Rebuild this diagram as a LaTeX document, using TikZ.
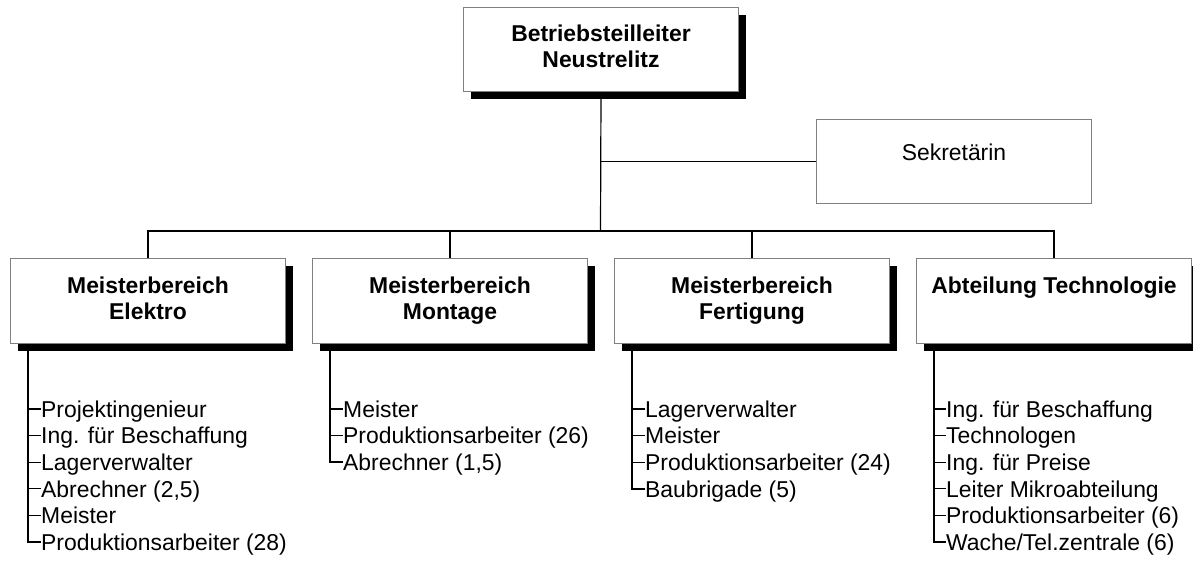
\documentclass[tikz,border=0pt]{standalone}
\usepackage{fontspec}
\setmainfont{Liberation Sans}
\usetikzlibrary{shadows}
\begin{document}
\begin{tikzpicture}[x=1pt,y=-1pt,
  every node/.style={font=\fontsize{22.9}{26.2}\selectfont},
  box/.style={draw=black!50, line width=1pt, fill=white, minimum width=275pt,
    minimum height=85pt, inner sep=0pt, anchor=north west, align=center},
  shbox/.style={box, font=\fontsize{22.9}{26.2}\selectfont\bfseries,
    general shadow={fill=black, shadow xshift=7pt, shadow yshift=-7pt}},
  conn/.style={line width=1.2pt, black},
  vline/.style={line width=1.8pt, black},
  tickline/.style={line width=1.3pt, black},
  item/.style={inner sep=0pt, anchor=base west}
]
\useasboundingbox (0,0) rectangle (1193,563);

% boxes
\node[shbox, minimum height=84pt] (T) at (463,7) {\strut Betriebsteilleiter\\\strut Neustrelitz};
\node[box, minimum height=84pt] (S) at (816,119) {};
\node (St) at ([yshift=9pt]S.center) {Sekretärin};
\node[shbox] (E) at (10,258) {\strut Meisterbereich\\\strut Elektro};
\node[shbox] (M) at (312,258) {\strut Meisterbereich\\\strut Montage};
\node[shbox] (F) at (614,258) {\strut Meisterbereich\\\strut Fertigung};
\node[shbox] (A) at (916,258) {\strut Abteilung Technologie\\\strut};

% connectors
\coordinate (bus) at (600.5,231);
\draw[conn] (T.south) -- (bus);
\draw[conn] (T.south |- S.west) -- (S.west);
\draw[conn] (E.north) -- ++(0,-27) -| (A.north);
\draw[conn] (M.north) -- (M.north |- bus);
\draw[conn] (F.north) -- (F.north |- bus);

% lists
\coordinate (Ev) at ([xshift=18pt]E.south west);
\coordinate (Mv) at ([xshift=18pt]M.south west);
\coordinate (Fv) at ([xshift=18pt]F.south west);
\coordinate (Av) at ([xshift=18pt]A.south west);

\foreach \t [count=\i] in {Projektingenieur, Ing. für Beschaffung, Lagerverwalter, {Abrechner (2,5)}, Meister, Produktionsarbeiter (28)} {
  \coordinate (et\i) at (41, {409+26.6*(\i-1)});
  \node[item] (e\i) at ([yshift=-8.3pt]et\i) {\t};
}
\draw[vline] (Ev) |- (et6);
\foreach \i in {1,...,5} \draw[tickline] (et\i -| Ev) -- (et\i);

\foreach \t [count=\i] in {Meister, Produktionsarbeiter (26), {Abrechner (1,5)}} {
  \coordinate (mt\i) at (343, {409+26.6*(\i-1)});
  \node[item] (m\i) at ([yshift=-8.3pt]mt\i) {\t};
}
\draw[vline] (Mv) |- (mt3);
\foreach \i in {1,2} \draw[tickline] (mt\i -| Mv) -- (mt\i);

\foreach \t [count=\i] in {Lagerverwalter, Meister, Produktionsarbeiter (24), Baubrigade (5)} {
  \coordinate (ft\i) at (645, {409+26.6*(\i-1)});
  \node[item] (f\i) at ([yshift=-8.3pt]ft\i) {\t};
}
\draw[vline] (Fv) |- (ft4);
\foreach \i in {1,2,3} \draw[tickline] (ft\i -| Fv) -- (ft\i);

\foreach \t [count=\i] in {Ing. für Beschaffung, Technologen, Ing. für Preise, Leiter Mikroabteilung, Produktionsarbeiter (6), Wache/Tel.zentrale (6)} {
  \coordinate (at\i) at (946, {409+26.6*(\i-1)});
  \node[item] (a\i) at ([yshift=-8.3pt]at\i) {\t};
}
\draw[vline] (Av) |- (at6);
\foreach \i in {1,...,5} \draw[tickline] (at\i -| Av) -- (at\i);
\end{tikzpicture}
\end{document}
